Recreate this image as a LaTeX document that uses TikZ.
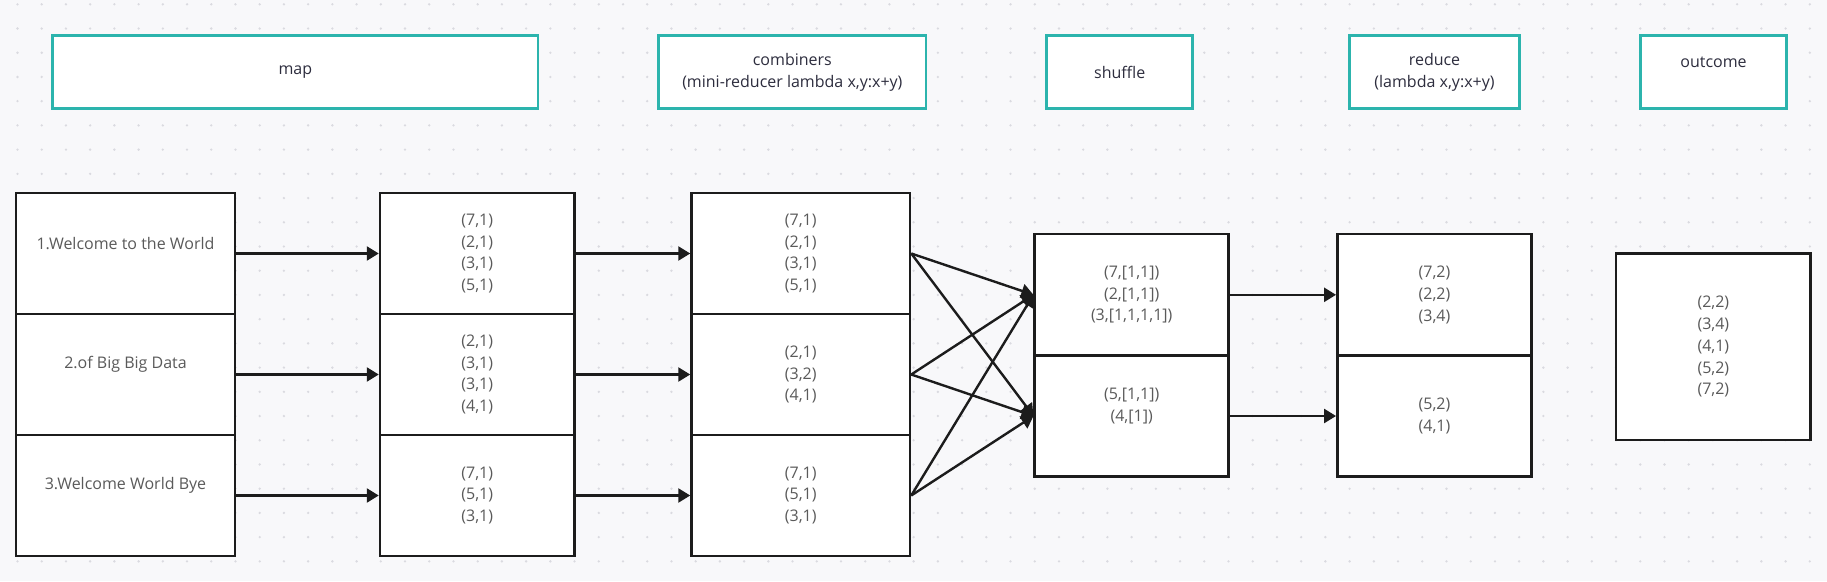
\documentclass[tikz,border=0pt]{standalone}
\usepackage{fontspec}
\setmainfont{Open Sans}
\usetikzlibrary{arrows.meta}
\definecolor{bgc}{RGB}{248,248,250}
\definecolor{dotc}{RGB}{218,218,224}
\definecolor{teal1}{RGB}{44,180,173}
\definecolor{hdrtxt}{RGB}{45,45,62}
\definecolor{celltxt}{RGB}{90,90,90}
\definecolor{edgec}{RGB}{28,28,28}
\tikzset{
  hdr/.style={draw=teal1, line width=2.5pt, fill=white, rectangle, inner sep=0pt,
    align=center, text=hdrtxt, font=\fontsize{16}{22}\selectfont},
  cell/.style={draw=edgec, line width=2.5pt, fill=white, rectangle, inner sep=0pt,
    align=center, text=celltxt, font=\fontsize{16}{21.7}\selectfont},
  txt/.style={inner sep=0pt, align=center, text=celltxt, font=\fontsize{16}{21.7}\selectfont},
  htxt/.style={inner sep=0pt, align=center, text=hdrtxt, font=\fontsize{16}{22}\selectfont},
  conn/.style={draw=edgec, line width=2.4pt, -{Triangle[length=12pt,width=14pt]}},
}
\begin{document}
\begin{tikzpicture}[x=1pt,y=-1pt]
\fill[bgc] (0,0) rectangle (1827,581);
\useasboundingbox (0,0) rectangle (1827,581);
\foreach \i in {0,...,75}{
  \foreach \j in {0,...,23}{
    \fill[dotc] ({17.5+\i*24.22},{4.3+\j*24.22}) circle (1.3);
  }
}
% headers
\node[hdr, minimum width=485.3pt, minimum height=72.8pt] (hmap) at (295.35,72.1) {map};
\node[hdr, minimum width=267.3pt, minimum height=72.8pt] (hcomb) at (792.35,72.1) {combiners\\(mini-reducer lambda x,y:x+y)};
\node[hdr, minimum width=146pt, minimum height=72.8pt] (hshuf) at (1119.7,72.1) {shuffle};
\node[hdr, minimum width=170.4pt, minimum height=72.8pt] (hred) at (1434.5,72.1) {reduce\\(lambda x,y:x+y)};
\node[hdr, minimum width=146.4pt, minimum height=72.8pt] (hout) at (1713.5,72.1) {};
\node[htxt] (houtt) at ([yshift=10pt]hout.center) {outcome};
% input lines
\node[cell, minimum width=219pt, minimum height=121pt] (l1) at (125.5,253.5) {};
\node[cell, minimum width=219pt, minimum height=121pt] (l2) at (125.5,374.5) {};
\node[cell, minimum width=219pt, minimum height=121pt] (l3) at (125.5,495.5) {};
\node[txt] (l1t) at ([yshift=10pt]l1.center) {1.Welcome to the World};
\node[txt] (l2t) at ([yshift=10pt]l2.center) {2.of Big Big Data};
\node[txt] (l3t) at ([yshift=10pt]l3.center) {3.Welcome World Bye};
% map output
\node[cell, minimum width=194.5pt, minimum height=121pt] (m1) at (477.25,253.5) {(7,1)\\(2,1)\\(3,1)\\(5,1)};
\node[cell, minimum width=194.5pt, minimum height=121pt] (m2) at (477.25,374.5) {(2,1)\\(3,1)\\(3,1)\\(4,1)};
\node[cell, minimum width=194.5pt, minimum height=121pt] (m3) at (477.25,495.5) {(7,1)\\(5,1)\\(3,1)};
% combiners
\node[cell, minimum width=218.5pt, minimum height=121pt] (c1) at (800.75,253.5) {(7,1)\\(2,1)\\(3,1)\\(5,1)};
\node[cell, minimum width=218.5pt, minimum height=121pt] (c2) at (800.75,374.5) {(2,1)\\(3,2)\\(4,1)};
\node[cell, minimum width=218.5pt, minimum height=121pt] (c3) at (800.75,495.5) {(7,1)\\(5,1)\\(3,1)};
% shuffle
\node[cell, minimum width=194pt, minimum height=121.2pt] (s1) at (1131.7,294.8) {(7,[1,1])\\(2,[1,1])\\(3,[1,1,1,1])};
\node[cell, minimum width=194pt, minimum height=121.2pt] (s2) at (1131.7,416) {};
\node[txt] (s2t) at ([yshift=10pt]s2.center) {(5,[1,1])\\(4,[1])};
% reduce
\node[cell, minimum width=194.4pt, minimum height=121.2pt] (r1) at (1434.5,294.8) {(7,2)\\(2,2)\\(3,4)};
\node[cell, minimum width=194.4pt, minimum height=121.2pt] (r2) at (1434.5,416) {(5,2)\\(4,1)};
% outcome
\node[cell, minimum width=194.7pt, minimum height=186.3pt] (o1) at (1713.35,346.85) {(2,2)\\(3,4)\\(4,1)\\(5,2)\\(7,2)};
% connectors
\draw[conn] (l1.east) -- (m1.west);
\draw[conn] (l2.east) -- (m2.west);
\draw[conn] (l3.east) -- (m3.west);
\draw[conn] (m1.east) -- (c1.west);
\draw[conn] (m2.east) -- (c2.west);
\draw[conn] (m3.east) -- (c3.west);
\draw[conn] (c1.east) -- (s1.west);
\draw[conn] (c1.east) -- (s2.west);
\draw[conn] (c2.east) -- (s1.west);
\draw[conn] (c2.east) -- (s2.west);
\draw[conn] (c3.east) -- (s1.west);
\draw[conn] (c3.east) -- (s2.west);
\draw[conn] (s1.east) -- (r1.west);
\draw[conn] (s2.east) -- (r2.west);
\end{tikzpicture}
\end{document}
